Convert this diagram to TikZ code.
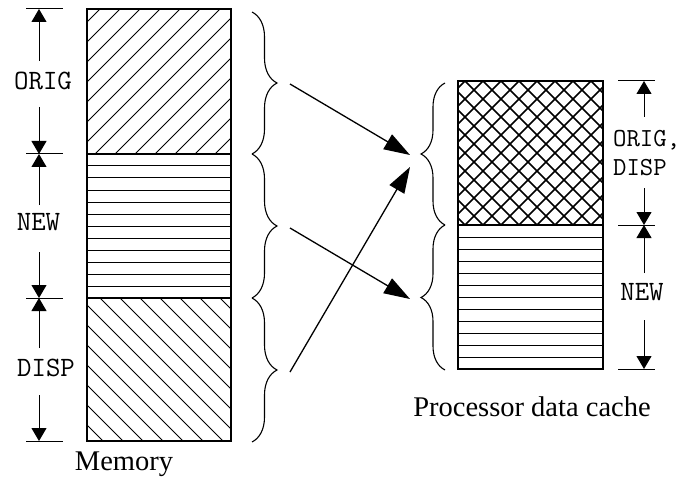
\documentclass[tikz,border=0pt]{standalone}
\usepackage{fontspec}
\setmainfont{Liberation Serif}
\usetikzlibrary{arrows.meta,decorations.pathreplacing}
\begin{document}
\begin{tikzpicture}[x=1pt,y=-1pt,
  box/.style={draw=black,line width=1.3pt},
  hatch/.style={line width=1pt},
  xhatch/.style={line width=1.6pt},
  dimtick/.style={line width=1pt},
  dimarrow/.style={line width=1pt,-{Triangle[length=13pt,width=15pt]}},
  bigarrow/.style={line width=1.3pt,-{Triangle[length=26pt,width=17pt]}},
  brc/.style={line width=1.1pt,decorate,decoration={brace,amplitude=25pt}},
  lbl/.style={font=\ttfamily\fontsize{28}{25}\selectfont,inner sep=0pt},
  lbltwo/.style={font=\ttfamily\fontsize{26}{29}\selectfont,inner sep=0pt},
  capt/.style={font=\fontsize{28.5}{34}\selectfont,inner sep=0pt,anchor=base}]
\useasboundingbox (0,0) rectangle (690,481);

% ---------- Memory block ----------
\begin{scope}
  \clip (87,9) rectangle (231,154);
  \foreach \c in {89,109,...,409} \draw[hatch] (\c,0) -- (\c-200,200);
\end{scope}
\foreach \yy in {166,178,...,286} \draw[hatch] (87,\yy) -- (231,\yy);
\begin{scope}
  \clip (87,298) rectangle (231,441);
  \foreach \c in {-358,-338,...,-58} \draw[hatch] (\c+290,290) -- (\c+450,450);
\end{scope}
\draw[box] (87,9) rectangle (231,441);
\draw[box] (87,154) -- (231,154);
\draw[box] (87,298) -- (231,298);

% ---------- Cache block ----------
\begin{scope}
  \clip (458,81) rectangle (603,225);
  \foreach \c in {528,546,...,834} \draw[xhatch] (\c-70,70) -- (\c-240,240);
  \foreach \c in {222,240,...,528} \draw[xhatch] (\c+70,70) -- (\c+240,240);
\end{scope}
\foreach \yy in {237,249,...,357} \draw[hatch] (458,\yy) -- (603,\yy);
\draw[box] (458,81) rectangle (603,369);
\draw[box] (458,225) -- (603,225);

% ---------- Left dimensions ----------
\foreach \yy in {9,154,298,441} \draw[dimtick] (26,\yy) -- (63,\yy);
\coordinate (m0) at (39,9);
\coordinate (m1) at (39,154);
\coordinate (m2) at (39,298);
\coordinate (m3) at (39,441);
\coordinate (oa) at (39,61);
\coordinate (ob) at (39,107);
\coordinate (na) at (39,205);
\coordinate (nb) at (39,252);
\coordinate (da) at (39,348);
\coordinate (db) at (39,395);
\draw[dimarrow] (oa) -- (m0);
\draw[dimarrow] (ob) -- (m1);
\draw[dimarrow] (na) -- (m1);
\draw[dimarrow] (nb) -- (m2);
\draw[dimarrow] (da) -- (m2);
\draw[dimarrow] (db) -- (m3);
\node[lbl,anchor=base] (lorig) at (43,90) {ORIG};
\node[lbl,anchor=base] (lnew) at (38.5,230) {NEW};
\node[lbl,anchor=base] (ldisp) at (46,376) {DISP};

% ---------- Right dimensions ----------
\foreach \yy in {81,225,369} \draw[dimtick] (618,\yy) -- (655,\yy);
\coordinate (c0) at (644,81);
\coordinate (c1) at (644,225);
\coordinate (c2) at (644,369);
\coordinate (ra) at (644,117);
\coordinate (rb) at (644,188);
\coordinate (rc) at (644,273);
\coordinate (rd) at (644,320);
\draw[dimarrow] (ra) -- (c0);
\draw[dimarrow] (rb) -- (c1);
\draw[dimarrow] (rc) -- (c1);
\draw[dimarrow] (rd) -- (c2);
\node[lbltwo,align=left,anchor=west] (rorigdisp) at (613,153) {ORIG,\\DISP};
\node[lbl,anchor=base] (rnew) at (642,300) {NEW};

% ---------- Braces ----------
\draw[brc] (252,12) -- (252,154);
\draw[brc] (252,154) -- (252,298);
\draw[brc] (252,298) -- (252,442);
\draw[brc,decoration={brace,amplitude=24pt}] (445,225) -- (445,83);
\draw[brc,decoration={brace,amplitude=24pt}] (445,370) -- (445,225);

% ---------- Mapping arrows ----------
\coordinate (s1) at (290,84);
\coordinate (s2) at (290,228);
\coordinate (s3) at (290,372);
\coordinate (t1) at (410,155);
\coordinate (t2) at (410,167);
\coordinate (t3) at (410,299);
\draw[bigarrow] (s1) -- (t1);
\draw[bigarrow] (s3) -- (t2);
\draw[bigarrow] (s2) -- (t3);

% ---------- Captions ----------
\node[capt] (memcap) at (124,470) {Memory};
\node[capt] (cachecap) at (532,416) {Processor data cache};
\end{tikzpicture}
\end{document}
